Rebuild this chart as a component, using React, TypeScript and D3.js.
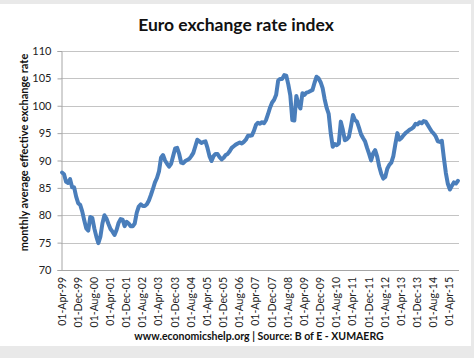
import React, { useEffect, useRef } from "react";
import * as d3 from "d3";

// monthly values, Apr-99 .. Aug-15
const startMonth = new Date(1999, 3, 1);
const rateValues = [
  87.8, 87.5, 86.1, 85.9, 86.6, 85.1, 85.1, 83.4, 82.2, 81.9,
  80.7, 79.1, 77.6, 77.2, 79.7, 79.5, 77.6, 76.1, 74.9, 76.1,
  78.5, 80.0, 79.4, 78.4, 77.5, 77.0, 76.4, 77.3, 78.6, 79.3,
  79.2, 78.0, 78.8, 78.5, 78.0, 78.0, 78.5, 80.5, 81.6, 82.0,
  81.7, 81.7, 82.0, 82.7, 83.7, 84.8, 86.0, 86.8, 88.0, 90.5,
  91.0, 90.0, 89.4, 88.9, 89.4, 90.8, 92.2, 92.3, 91.2, 89.6,
  89.5, 89.9, 90.1, 90.3, 90.8, 91.4, 92.6, 93.8, 93.5, 93.2,
  93.4, 93.5, 92.3, 90.8, 89.9, 90.8, 91.2, 91.2, 90.6, 90.2,
  90.5, 91.0, 91.2, 91.7, 92.3, 92.6, 92.9, 93.1, 93.3, 93.1,
  93.4, 93.8, 94.5, 94.5, 94.6, 95.4, 96.5, 96.9, 96.7, 97.0,
  96.8, 97.4, 98.5, 99.7, 100.6, 101.1, 102.0, 104.6, 104.9, 104.9,
  105.6, 105.5, 103.9, 101.9, 97.4, 97.3, 101.8, 100.2, 99.5, 102.3,
  102.0, 102.4, 102.5, 102.7, 102.9, 104.2, 105.3, 105.0, 104.3, 103.2,
  101.2, 99.6, 98.5, 95.0, 92.5, 93.0, 92.8, 93.1, 97.1, 95.6,
  93.7, 93.9, 94.3, 96.2, 98.3, 97.4, 97.1, 96.0, 94.8, 94.1,
  93.5, 92.3, 91.2, 90.0, 91.3, 91.9, 90.7, 88.9, 87.6, 86.7,
  87.0, 88.5, 89.2, 89.6, 90.8, 93.0, 95.0, 93.8, 94.1, 94.6,
  95.0, 95.3, 95.6, 95.8, 96.1, 96.7, 96.6, 97.0, 96.8, 97.2,
  97.1, 96.5, 95.9, 95.3, 94.9, 94.4, 93.5, 93.4, 93.6, 90.5,
  87.7, 85.7, 84.7, 85.4, 86.0, 85.8, 86.3,
];
const yTicks = [70, 75, 80, 85, 90, 95, 100, 105, 110];
const xTickLabels = [
  "01-Apr-99", "01-Dec-99", "01-Aug-00", "01-Apr-01", "01-Dec-01",
  "01-Aug-02", "01-Apr-03", "01-Dec-03", "01-Aug-04", "01-Apr-05",
  "01-Dec-05", "01-Aug-06", "01-Apr-07", "01-Dec-07", "01-Aug-08",
  "01-Apr-09", "01-Dec-09", "01-Aug-10", "01-Apr-11", "01-Dec-11",
  "01-Aug-12", "01-Apr-13", "01-Dec-13", "01-Aug-14", "01-Apr-15",
];
const labelStep = 8; // one label every 8 months

const W = 474, H = 358;
const plot = { left: 61, right: 459, top: 51, bottom: 270 };
const font = "Lato, 'Open Sans', sans-serif";

export default function App() {
  const svgRef = useRef<SVGSVGElement>(null);

  useEffect(() => {
    const svg = d3.select(svgRef.current);
    svg.selectAll("*").remove();

    const months = d3.timeMonth.range(startMonth, d3.timeMonth.offset(startMonth, rateValues.length));
    const data = months.map((d, i) => ({ date: d, value: rateValues[i] }));

    const x = d3.scaleBand<number>()
      .domain(d3.range(data.length))
      .range([plot.left, plot.right]);
    const xc = (i: number) => (x(i) as number) + x.bandwidth() / 2;
    const y = d3.scaleLinear().domain([70, 110]).range([plot.bottom, plot.top]);

    // outer frame
    svg.append("rect").attr("width", W).attr("height", H).attr("fill", "#e9e9e9");
    svg.append("rect").attr("x", 0).attr("y", 4).attr("width", 471).attr("height", 342).attr("fill", "#fff");

    // gridlines
    svg.append("g").selectAll("line").data(yTicks.filter(t => t > 70)).enter().append("line")
      .attr("x1", plot.left).attr("x2", plot.right)
      .attr("y1", d => Math.round(y(d)) + 0.5).attr("y2", d => Math.round(y(d)) + 0.5)
      .attr("stroke", "#c4c4c4").attr("stroke-width", 1.2);

    // y axis
    const yAxis = svg.append("g").attr("transform", `translate(${plot.left + 0.5},0)`)
      .call(d3.axisLeft(y).tickValues(yTicks).tickSize(4).tickPadding(6));
    yAxis.select(".domain").attr("stroke", "#a6a6a6");
    yAxis.selectAll(".tick line").attr("stroke", "#a6a6a6");
    yAxis.selectAll("text").attr("font-family", font).attr("font-size", 11).attr("fill", "#222");

    // x axis
    svg.append("line")
      .attr("x1", plot.left).attr("x2", plot.right)
      .attr("y1", plot.bottom + 0.5).attr("y2", plot.bottom + 0.5)
      .attr("stroke", "#a6a6a6");

    svg.append("g").selectAll("text").data(xTickLabels).enter().append("text")
      .attr("transform", (d, k) => `translate(${xc(k * labelStep) + 3.5},${plot.bottom + 7}) rotate(-90)`)
      .attr("text-anchor", "end")
      .attr("font-family", font).attr("font-size", 10.5).attr("fill", "#222")
      .text(d => d);

    // line
    const line = d3.line<{ date: Date; value: number }>()
      .x((d, i) => xc(i))
      .y(d => y(d.value));
    svg.append("path").datum(data)
      .attr("d", line)
      .attr("fill", "none")
      .attr("stroke", "#4a7ebb")
      .attr("stroke-width", 4)
      .attr("stroke-linejoin", "round")
      .attr("stroke-linecap", "round");

    // title
    svg.append("text").attr("x", 236).attr("y", 31)
      .attr("text-anchor", "middle")
      .attr("font-family", font).attr("font-weight", "bold").attr("font-size", 17.5)
      .attr("fill", "#111")
      .text("Euro exchange rate index");

    // y title
    svg.append("text")
      .attr("transform", `translate(28,${(plot.top + plot.bottom) / 2 - 8}) rotate(-90)`)
      .attr("text-anchor", "middle")
      .attr("font-family", font).attr("font-weight", "bold").attr("font-size", 11)
      .attr("fill", "#111")
      .text("monthly average effective exchange rate");

    // footer
    svg.append("text").attr("x", 259).attr("y", 340)
      .attr("text-anchor", "middle")
      .attr("font-family", font).attr("font-weight", "bold").attr("font-size", 10.5)
      .attr("fill", "#111")
      .text("www.economicshelp.org | Source: B of E - XUMAERG");
  }, []);

  return (
    <svg ref={svgRef} width={W} height={H} style={{ position: "absolute", left: 0, top: 0 }} />
  );
}
